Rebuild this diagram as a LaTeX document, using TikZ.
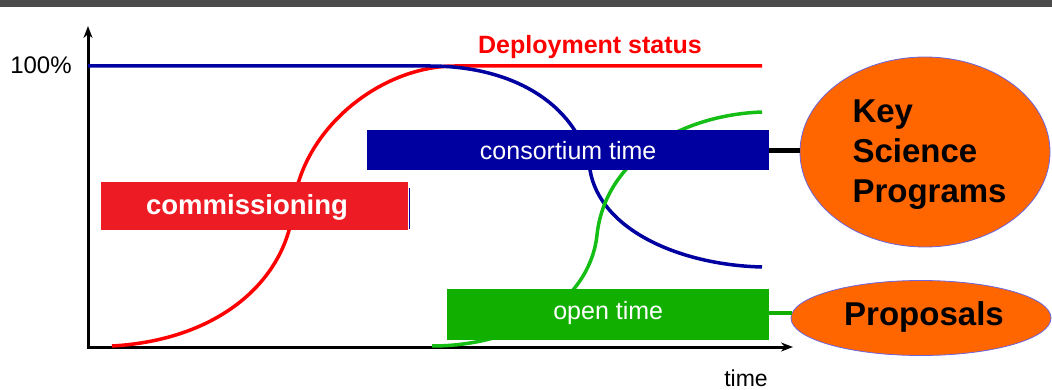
\documentclass[tikz,border=0pt]{standalone}
\usepackage{fontspec}
\setmainfont{Liberation Sans}
\usetikzlibrary{arrows.meta,shapes.geometric}
\definecolor{cblue}{RGB}{0,0,160}
\definecolor{cred}{RGB}{255,0,0}
\definecolor{cgreen}{RGB}{20,190,20}
\definecolor{boxred}{RGB}{237,28,36}
\definecolor{boxgreen}{RGB}{17,176,0}
\definecolor{corange}{RGB}{255,102,0}
\definecolor{edgeblue}{RGB}{110,100,220}
\definecolor{topbar}{RGB}{75,75,75}
\tikzset{
  axis/.style={line width=3pt,-{Stealth[length=12pt,width=9pt]}},
  curve/.style={line width=3.5pt},
  bar/.style={inner sep=0pt,anchor=north west},
  bartext/.style={text=white,font=\fontsize{25}{30}\selectfont},
  blob/.style={ellipse,fill=corange,draw=edgeblue,line width=0.8pt,inner sep=0pt},
  bigbold/.style={font=\fontsize{33}{40}\selectfont\bfseries}
}
\begin{document}
\begin{tikzpicture}[x=1pt,y=-1pt]
\useasboundingbox (0,0) rectangle (1052,390);
\fill[topbar] (0,0) rectangle (1052,7);

% axes
\coordinate (O) at (88,347);
\coordinate (ytip) at (88,26);
\coordinate (xtip) at (793,347);
\draw[axis] (O) -- (ytip);
\draw[axis] ([xshift=-1.5pt]O) -- (xtip);

% curves
\draw[cred,curve] (112,346) .. controls (220,340) and (285,280) .. (293,210)
      .. controls (300,130) and (380,66) .. (455,66) -- (762,66);
\draw[cblue,curve] (88,66) -- (430,66) .. controls (520,66) and (580,110) .. (590,170)
      .. controls (600,230) and (680,265) .. (762,267);
\draw[cgreen,curve] (432,346) .. controls (520,346) and (590,300) .. (597,235)
      .. controls (605,160) and (680,115) .. (762,112);

% boxes
\node[bar,fill=boxred,minimum width=307pt,minimum height=48pt] (comm) at (101,182) {};
\draw[cblue,line width=1pt] (409.5,188) -- (409.5,229);
\node[bartext,font=\fontsize{27.5}{32}\selectfont\bfseries] (commtext) at (247,207) {commissioning};
\node[bar,fill=cblue,minimum width=402pt,minimum height=40pt] (cons) at (367,130) {};
\node[bartext] (constext) at (cons.center) {consortium time};
\node[bar,fill=boxgreen,minimum width=322pt,minimum height=51pt] (open) at (447,289) {};
\node[bartext] (opentext) at ([yshift=2pt]open.center) {open time};

% ellipses and connectors
\node[blob,minimum width=250pt,minimum height=190pt] (ksp) at (925,152) {};
\node[blob,minimum width=260pt,minimum height=75pt] (prop) at (921,318) {};
\draw[line width=5pt] (cons.east) -- (cons.east -| ksp.west);
\draw[boxgreen,line width=4pt] ([yshift=2pt]open.east) -- ([yshift=2pt,xshift=1pt]open.east -| prop.west);
\node[bigbold,align=left,anchor=west] (ksptext) at (849,155) {Key\\Science\\Programs};
\node[bigbold] (proptext) at (924,317) {Proposals};

% labels
\node[text=cred,font=\fontsize{25}{30}\selectfont\bfseries] (deploy) at (590,47) {Deployment status};
\node[font=\fontsize{24}{28}\selectfont] (hundred) at (41,65) {100\%};
\node[font=\fontsize{23}{27}\selectfont,anchor=base,inner sep=0pt] (timelbl) at (746,386) {time};
\end{tikzpicture}
\end{document}
